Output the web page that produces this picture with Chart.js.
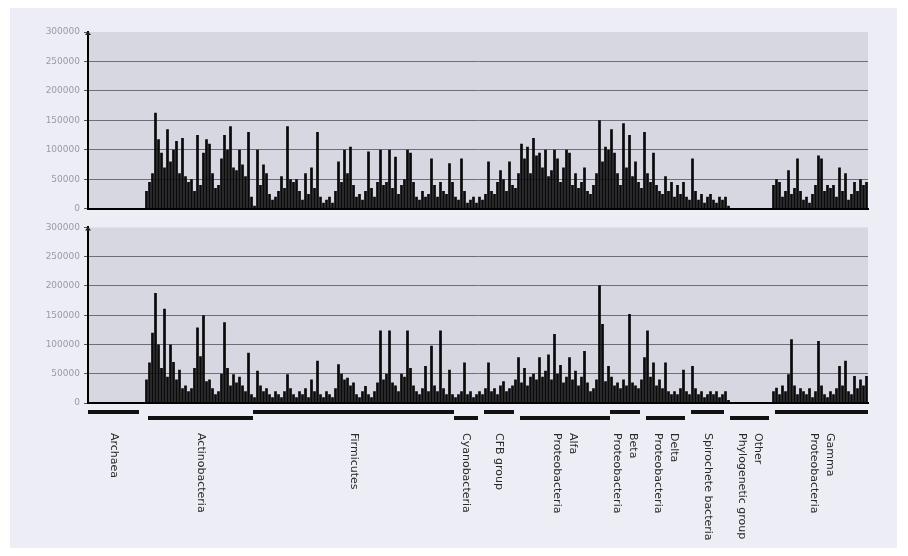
<!DOCTYPE html>
<html>
<head>
<meta charset="utf-8">
<script src="https://cdn.jsdelivr.net/npm/chart.js@4.4.1/dist/chart.umd.min.js"></script>
<style>
  body { margin: 0; background: #fff; }
  #frame { position: absolute; left: 10px; top: 8px; width: 887px; height: 540px; background: #ededf5; }
  canvas { position: absolute; left: 0; }
  #top { top: 0; }
  #bottom { top: 218px; }
</style>
</head>
<body>
<div id="frame"></div>
<canvas id="top" width="908" height="218"></canvas>
<canvas id="bottom" width="908" height="338"></canvas>
<script>
// values in thousands, one bar per sequence position
const topValues = [
  0,0,0,0,0,0,0,0,0,0,0,0,0,0,0,0,0,0,0,
  30,45,60,163,118,95,70,135,80,100,115,60,120,55,45,50,30,125,40,95,118,110,60,35,40,85,125,100,140,70,65,100,75,55,130,20,
  5,100,40,75,60,25,15,20,30,55,35,140,50,45,50,30,15,60,25,70,35,130,20,10,15,20,10,30,80,45,
  100,60,105,40,20,25,15,30,97,35,20,45,100,40,45,100,35,88,25,40,50,100,95,45,20,15,30,20,25,85,40,20,45,30,25,77,45,
  20,15,85,30,10,15,20,10,20,15,
  25,80,30,25,45,65,50,30,80,40,35,
  60,110,85,105,60,120,90,95,70,100,55,65,100,85,45,70,100,95,40,60,35,45,70,30,25,40,60,150,80,105,100,
  135,95,60,40,145,70,125,55,80,45,35,130,
  60,45,95,40,30,25,55,30,45,20,40,25,45,20,15,
  85,30,15,25,10,20,25,15,10,20,15,20,
  5,0,0,0,0,0,0,0,0,0,0,0,0,0,0,
  40,50,45,20,30,65,25,35,85,30,15,20,10,25,40,90,85,30,40,35,40,20,70,30,60,15,25,45,30,50,40,45
];

const bottomValues = [
  1,1,1,1,1,1,1,1,1,1,1,1,1,1,1,1,1,1,1,
  40,69,120,188,100,60,161,45,100,70,40,57,25,30,20,25,60,129,80,150,37,40,25,15,20,50,138,60,30,49,35,45,30,20,86,15,
  10,55,30,20,25,15,10,20,15,10,20,49,25,15,10,20,15,25,10,40,20,72,15,10,20,15,10,25,66,50,
  40,43,30,35,15,10,20,29,15,10,20,35,124,40,50,124,35,30,20,50,45,124,60,30,20,15,25,63,20,98,30,20,124,25,15,57,15,
  10,15,20,69,15,20,10,15,20,15,
  25,69,20,25,15,30,37,20,25,30,40,
  78,35,60,30,45,50,40,78,45,55,83,40,118,50,65,35,45,78,40,55,30,45,89,35,20,25,40,201,135,37,63,
  45,30,35,25,40,30,152,35,30,25,40,78,
  124,45,69,30,40,25,69,20,15,20,15,25,57,20,15,
  63,25,15,20,10,15,20,15,20,10,15,20,
  5,0,0,0,0,0,0,0,0,0,0,0,0,0,0,
  20,26,15,30,20,49,109,30,15,25,20,15,25,10,20,106,30,15,10,20,15,25,63,30,72,20,15,46,25,40,30,46
];

const yTickLabels = ['0', '50000', '100000', '150000', '200000', '250000', '300000'];

const groupNames = [
  ['Archaea'], ['Actinobacteria'], ['Firmicutes'], ['Cyanobacteria'], ['CFB group'],
  ['Alfa', 'Proteobacteria'], ['Beta', 'Proteobacteria'], ['Delta', 'Proteobacteria'],
  ['Spirochete bacteria'], ['Other', 'Phylogenetic group'], ['Gamma', 'Proteobacteria']
];
const groupStart = [0, 20, 55, 122, 132, 144, 174, 186, 201, 214, 229];
const groupEnd = [16, 54, 121, 129, 141, 173, 183, 198, 211, 226, 259];
const groupRow = [0, 1, 0, 1, 0, 1, 0, 1, 0, 1, 0];

const positions = topValues.map((v, i) => i + 1);

const panelBg = {
  id: 'panelBg',
  beforeDraw(chart) {
    const { ctx, chartArea: a } = chart;
    ctx.save();
    ctx.fillStyle = '#d7d7e1';
    ctx.fillRect(a.left, a.top, a.right - a.left, a.bottom - a.top);
    ctx.restore();
  },
  afterDraw(chart) {
    const { ctx, chartArea: a } = chart;
    ctx.save();
    ctx.fillStyle = '#222';
    ctx.beginPath();
    ctx.moveTo(a.left - 3, a.top + 3);
    ctx.lineTo(a.left, a.top - 1);
    ctx.lineTo(a.left + 3, a.top + 3);
    ctx.fill();
    ctx.restore();
  }
};

const groupAxis = {
  id: 'groupAxis',
  afterDraw(chart) {
    const { ctx, chartArea: a } = chart;
    const x = chart.scales.x;
    const half = (x.getPixelForValue(1) - x.getPixelForValue(0)) / 2;
    ctx.save();
    groupStart.forEach((s, k) => {
      const x0 = x.getPixelForValue(s) - half;
      const x1 = x.getPixelForValue(groupEnd[k]) + half;
      const y = a.bottom + 9 + groupRow[k] * 6;
      ctx.fillStyle = '#111';
      ctx.fillRect(x0, y - 2, x1 - x0, 4);

      const lines = groupNames[k];
      const cx = (x0 + x1) / 2;
      ctx.save();
      ctx.translate(cx, a.bottom + 30);
      ctx.rotate(Math.PI / 2);
      ctx.font = '11px "DejaVu Sans"';
      ctx.fillStyle = '#2a2a2a';
      ctx.textAlign = 'left';
      ctx.textBaseline = 'middle';
      lines.forEach((t, j) => {
        ctx.fillText(t, 0, (j - (lines.length - 1) / 2) * 16);
      });
      ctx.restore();
    });
    ctx.restore();
  }
};

function makePanel(id, values, padding, extra) {
  new Chart(document.getElementById(id), {
    type: 'bar',
    data: {
      labels: positions,
      datasets: [{
        data: values,
        backgroundColor: '#0a0a0a',
        barPercentage: 0.9,
        categoryPercentage: 1
      }]
    },
    options: {
      responsive: false,
      animation: false,
      layout: { padding },
      plugins: { legend: { display: false }, tooltip: { enabled: false } },
      scales: {
        x: {
          ticks: { display: false },
          grid: { display: false },
          border: { color: '#000', width: 2 },
          afterFit(s) { s.height = 0; }
        },
        y: {
          min: 0,
          max: 300,
          ticks: {
            stepSize: 50,
            font: { size: 9, family: 'DejaVu Sans' },
            color: '#9a9aa2',
            padding: 4,
            callback: (v, i) => yTickLabels[i]
          },
          grid: {
            color: c => c.tick && c.tick.value === 300 ? 'rgba(0,0,0,0)' : '#6e6e78',
            lineWidth: 1,
            tickLength: 4,
            tickColor: '#555'
          },
          border: { color: '#000', width: 2 },
          afterFit(s) { s.width = 88; }
        }
      }
    },
    plugins: [panelBg].concat(extra)
  });
}

makePanel('top', topValues, { left: 0, right: 40, top: 32, bottom: 6 }, []);
makePanel('bottom', bottomValues, { left: 0, right: 40, top: 7, bottom: 153 }, [groupAxis]);
</script>
</body>
</html>
